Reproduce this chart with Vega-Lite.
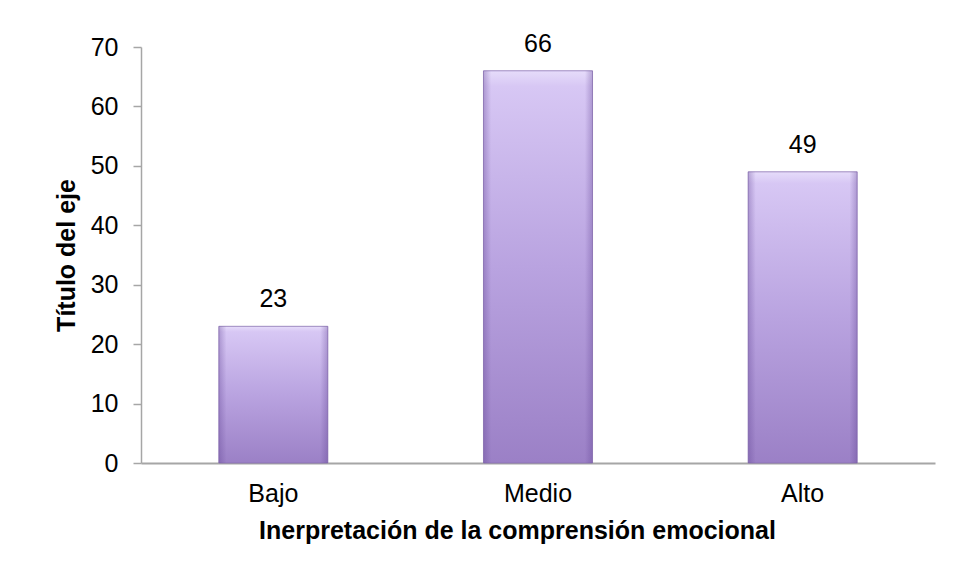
{
  "$schema": "https://vega.github.io/schema/vega-lite/v6.json",
  "width": 794,
  "height": 416,
  "autosize": {"type": "none"},
  "padding": {"left": 141, "top": 47, "right": 21, "bottom": 119},
  "background": "white",
  "config": {
    "view": {"stroke": null},
    "font": "Liberation Sans",
    "axis": {"grid": false, "labelColor": "black", "titleColor": "black"}
  },
  "data": {
    "values": [
      {"nivel": "Bajo", "frecuencia": 23},
      {"nivel": "Medio", "frecuencia": 66},
      {"nivel": "Alto", "frecuencia": 49}
    ]
  },
  "encoding": {
    "x": {
      "field": "nivel",
      "type": "nominal",
      "sort": ["Bajo", "Medio", "Alto"],
      "scale": {"paddingInner": 0.588, "paddingOuter": 0.294},
      "axis": {
        "title": "Inerpretación de la comprensión emocional",
        "titleFontSize": 25,
        "titleFontWeight": "bold",
        "titlePadding": 12,
        "titleX": 376,
        "labelAngle": 0,
        "labelFontSize": 25,
        "labelFontWeight": "normal",
        "labelPadding": 18,
        "ticks": false,
        "domainColor": "#a6a6a6",
        "domainWidth": 2
      }
    },
    "y": {
      "field": "frecuencia",
      "type": "quantitative",
      "scale": {"domain": [0, 70], "nice": false},
      "axis": {
        "title": "Título del eje",
        "titleFontSize": 25,
        "titleFontWeight": "bold",
        "titlePadding": 11,
        "values": [0, 10, 20, 30, 40, 50, 60, 70],
        "labelFontSize": 25,
        "labelPadding": 15,
        "tickSize": 8,
        "tickColor": "#a6a6a6",
        "tickWidth": 1.5,
        "domainColor": "#a6a6a6",
        "domainWidth": 1.5
      }
    }
  },
  "layer": [
    {
      "mark": {
        "type": "bar",
        "stroke": "#8a72b2",
        "strokeWidth": 1,
        "strokeOpacity": 0.8,
        "color": {
          "gradient": "linear",
          "x1": 0, "y1": 0, "x2": 0, "y2": 1,
          "stops": [
            {"offset": 0, "color": "#e6dcfa"},
            {"offset": 0.04, "color": "#d7c7f4"},
            {"offset": 0.5, "color": "#b9a3e0"},
            {"offset": 1, "color": "#9b80c6"}
          ]
        }
      }
    },
    {
      "mark": {
        "type": "bar",
        "color": {
          "gradient": "linear",
          "x1": 0, "y1": 0, "x2": 1, "y2": 0,
          "stops": [
            {"offset": 0, "color": "rgba(95,65,145,0.35)"},
            {"offset": 0.07, "color": "rgba(95,65,145,0)"},
            {"offset": 0.93, "color": "rgba(95,65,145,0)"},
            {"offset": 1, "color": "rgba(95,65,145,0.35)"}
          ]
        }
      }
    },
    {
      "mark": {
        "type": "text",
        "fontSize": 25,
        "color": "black",
        "baseline": "alphabetic",
        "dy": -19
      },
      "encoding": {"text": {"field": "frecuencia", "type": "quantitative"}}
    }
  ]
}
